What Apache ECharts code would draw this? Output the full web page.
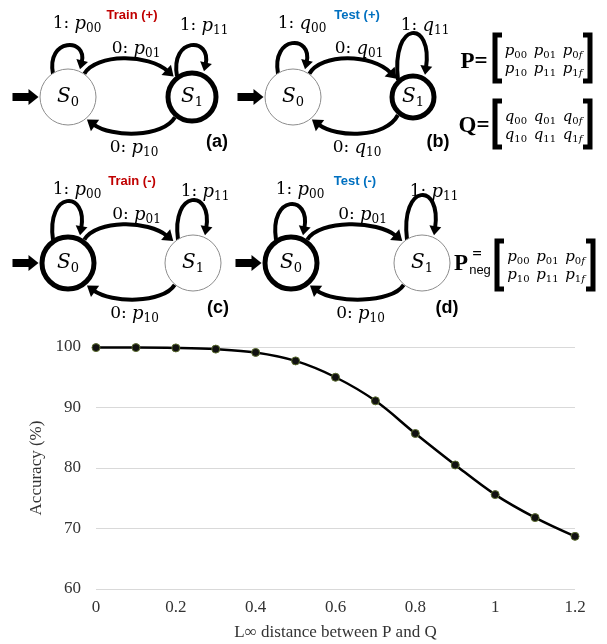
<!DOCTYPE html>
<html>
<head>
<meta charset="utf-8">
<script src="https://cdn.jsdelivr.net/npm/echarts@6/dist/echarts.min.js"></script>
<style>html,body{margin:0;padding:0;background:#fff}#main{width:607px;height:644px}</style>
</head>
<body>
<div id="main"></div>
<script>
// accuracy vs L-infinity distance
const distance = [0, 0.1, 0.2, 0.3, 0.4, 0.5, 0.6, 0.7, 0.8, 0.9, 1.0, 1.1, 1.2];
const accuracy = [99.9, 99.9, 99.85, 99.65, 99.1, 97.7, 95.0, 91.1, 85.7, 80.5, 75.6, 71.8, 68.7];
const xRange = [0, 1.2];
const yRange = [60, 100];

// diagram panels (a)-(d)
const panels = [
  { cx0: 68,  cx1: 192, cy: 97,  r0: 28, r1: 24, thick: 1, top0: 46,  top1: 46,  v: 'p', title: 'Train (+)', color: '#c00000', tag: '(a)' },
  { cx0: 293, cx1: 413, cy: 97,  r0: 28, r1: 21, thick: 1, top0: 44,  top1: 34,  v: 'q', title: 'Test (+)',  color: '#0070c0', tag: '(b)' },
  { cx0: 68,  cx1: 193, cy: 263, r0: 26, r1: 28, thick: 0, top0: 202, top1: 201, v: 'p', title: 'Train (-)', color: '#c00000', tag: '(c)' },
  { cx0: 291, cx1: 422, cy: 263, r0: 26, r1: 28, thick: 0, top0: 205, top1: 196, v: 'p', title: 'Test (-)',  color: '#0070c0', tag: '(d)' }
];

const serif = 'DejaVu Serif';
const mathRich = {
  n: { fontFamily: serif, fontSize: 17, fill: '#000' },
  i: { fontFamily: serif, fontStyle: 'italic', fontSize: 18, fill: '#000' },
  s: { fontFamily: serif, fontSize: 12, fill: '#000', padding: [9, 0, 0, 0] },
  I: { fontFamily: serif, fontStyle: 'italic', fontSize: 20, fill: '#000' },
  S: { fontFamily: serif, fontSize: 13, fill: '#000', padding: [11, 0, 0, 0] },
  mi: { fontFamily: serif, fontStyle: 'italic', fontSize: 15, fill: '#000' },
  ms: { fontFamily: serif, fontSize: 10, fill: '#000', padding: [8, 0, 0, 0] },
  msi: { fontFamily: serif, fontStyle: 'italic', fontSize: 10, fill: '#000', padding: [8, 0, 0, 0] }
};

const items = [];
const curves = [];
const shapes = [];

function arrowCurve(p0, c1, c2, tip, lw, hl, hw) {
  const dx = tip[0] - c2[0], dy = tip[1] - c2[1], L = Math.hypot(dx, dy);
  const ux = dx / L, uy = dy / L;
  const bx = tip[0] - ux * hl, by = tip[1] - uy * hl;
  curves.push({ type: 'bezierCurve', silent: true,
    shape: { x1: p0[0], y1: p0[1], cpx1: c1[0], cpy1: c1[1], cpx2: c2[0], cpy2: c2[1], x2: bx + ux * 2, y2: by + uy * 2 },
    style: { stroke: '#000', lineWidth: lw, fill: null } });
  curves.push({ type: 'polygon', silent: true,
    shape: { points: [tip, [bx - uy * hw, by + ux * hw], [bx + uy * hw, by - ux * hw]] },
    style: { fill: '#000' } });
}

function label(x, y, text, extra) {
  items.push({ type: 'text', silent: true,
    style: Object.assign({ text: text, x: x, y: y, align: 'center', verticalAlign: 'middle', fill: '#000', rich: mathRich }, extra || {}) });
}

function sub(v, s) { return '{i|' + v + '}{s|' + s + '}'; }

function onCircle(cx, cy, r, deg) {
  const a = deg * Math.PI / 180;
  return [cx + r * Math.cos(a), cy - r * Math.sin(a)];
}

function loop(cx, cy, r, top) {
  const sx = cx - 15, sy = cy - Math.sqrt(r * r - 225) + 1;
  const ex = cx + 12, ey = cy - Math.sqrt(r * r - 144) - 2;
  const cpY = (top - 0.125 * (sy + ey)) / 0.75;
  arrowCurve([sx, sy], [sx - 7, cpY], [ex + 8, cpY], [ex, ey], 4, 9, 6);
}

panels.forEach(function (d) {
  const cy = d.cy;
  const lw0 = d.thick ? 1 : 5, lw1 = d.thick ? 5 : 1;
  const e0 = d.r0 + lw0 / 2, e1 = d.r1 + lw1 / 2;
  // self loops
  loop(d.cx0, cy, e0, d.top0);
  loop(d.cx1, cy, e1, d.top1);
  // 0-transition S0 -> S1 (upper arc)
  let p0 = onCircle(d.cx0, cy, e0, 55), tip = onCircle(d.cx1, cy, e1 + 1, 132);
  let cpY = (cy - 38 - 0.125 * (p0[1] + tip[1])) / 0.75;
  arrowCurve(p0, [p0[0] + 12, cpY], [tip[0] - 25, cpY], tip, 4, 10, 7);
  // 0-transition S1 -> S0 (lower arc)
  p0 = onCircle(d.cx1, cy, e1, 230); tip = onCircle(d.cx0, cy, e0 + 1, -50);
  cpY = (cy + 36 - 0.125 * (p0[1] + tip[1])) / 0.75;
  arrowCurve(p0, [p0[0] - 12, cpY], [tip[0] + 25, cpY], tip, 4, 10, 7);
  // start arrow
  const ax = d.cx0 - e0;
  shapes.push({ type: 'polygon', silent: true,
    shape: { points: [[ax - 27, cy - 4], [ax - 11, cy - 4], [ax - 11, cy - 8], [ax - 1, cy], [ax - 11, cy + 8], [ax - 11, cy + 4], [ax - 27, cy + 4]] },
    style: { fill: '#000' } });
  // states
  shapes.push({ type: 'circle', silent: true, shape: { cx: d.cx0, cy: cy, r: d.r0 },
    style: { fill: '#fff', stroke: d.thick ? '#8c8c8c' : '#000', lineWidth: lw0 } });
  shapes.push({ type: 'circle', silent: true, shape: { cx: d.cx1, cy: cy, r: d.r1 },
    style: { fill: '#fff', stroke: d.thick ? '#000' : '#8c8c8c', lineWidth: lw1 } });
  label(d.cx0, cy, '{I|S}{S|0}');
  label(d.cx1, cy, '{I|S}{S|1}');
  // transition labels
  const mid = (d.cx0 + d.cx1) / 2;
  label(d.cx0 + 9, cy - 73, '{n|1: }' + sub(d.v, '00'));
  label(d.cx1 + 12, cy - 71, '{n|1: }' + sub(d.v, '11'));
  label(mid + 6, cy - 48, '{n|0: }' + sub(d.v, '01'));
  label(mid + 4, cy + 51, '{n|0: }' + sub(d.v, '10'));
  label(d.cx0 + 64, cy - 82, d.title, { fill: d.color, font: 'bold 13px "Liberation Sans"', rich: null });
  label(d.cx1 + 25, cy + 45, d.tag, { font: 'bold 18px "Liberation Sans"', rich: null });
});

// matrices
function bracket(x, y0, y1, dir) {
  shapes.push({ type: 'polyline', silent: true,
    shape: { points: [[x + dir * 7, y0], [x, y0], [x, y1], [x + dir * 7, y1]] },
    style: { stroke: '#000', lineWidth: 5, fill: null, lineJoin: 'miter' } });
}
function mrow(v, r) {
  return '{mi|' + v + '}{ms|' + r + '0}  {mi|' + v + '}{ms|' + r + '1}  {mi|' + v + '}{ms|' + r + '}{msi|f}';
}
function matrix(v, xl, xr, y0, y1) {
  bracket(xl, y0, y1, 1);
  bracket(xr, y0, y1, -1);
  const xc = (xl + xr) / 2 + 1;
  label(xc, y0 + 16, mrow(v, '0'));
  label(xc, y0 + 34, mrow(v, '1'));
}
matrix('p', 495, 590, 35, 81);
label(474, 62, 'P=', { font: 'bold 23px "Liberation Serif"', rich: null });
matrix('q', 495, 590, 101, 147);
label(474, 126, 'Q=', { font: 'bold 23px "Liberation Serif"', rich: null });
matrix('p', 497, 593, 241, 289);
label(461, 264, 'P', { font: 'bold 23px "Liberation Serif"', rich: null });
label(477, 255, '=', { font: 'bold 17px "Liberation Serif"', rich: null });
label(480, 270, 'neg', { font: '13px "Liberation Sans"', rich: null });

const chart = echarts.init(document.getElementById('main'));
chart.setOption({
  animation: false,
  grid: { left: 96, right: 32, top: 347, bottom: 55 },
  xAxis: {
    type: 'value', min: xRange[0], max: xRange[1], interval: 0.2,
    axisLine: { show: false }, axisTick: { show: false }, splitLine: { show: false },
    axisLabel: { fontFamily: 'Liberation Serif', fontSize: 17, color: '#333', margin: 10 },
    name: 'L\u221E distance between P and Q', nameLocation: 'middle', nameGap: 35,
    nameTextStyle: { fontFamily: 'Liberation Serif', fontSize: 17, color: '#333' }
  },
  yAxis: {
    type: 'value', min: yRange[0], max: yRange[1], interval: 10,
    axisLine: { show: false }, axisTick: { show: false },
    splitLine: { lineStyle: { color: '#d9d9d9', width: 1 } },
    axisLabel: { fontFamily: 'Liberation Serif', fontSize: 17, color: '#333', margin: 15 },
    name: 'Accuracy (%)', nameLocation: 'middle', nameGap: 50,
    nameTextStyle: { fontFamily: 'Liberation Serif', fontSize: 17, color: '#333' }
  },
  series: [{
    type: 'line',
    data: distance.map(function (x, i) { return [x, accuracy[i]]; }),
    smooth: 0.35,
    symbol: 'circle', symbolSize: 8,
    lineStyle: { color: '#000', width: 2.5 },
    itemStyle: { color: '#111', borderColor: '#5a6b2e', borderWidth: 1 }
  }],
  graphic: curves.concat(shapes, items)
});
</script>
</body>
</html>
